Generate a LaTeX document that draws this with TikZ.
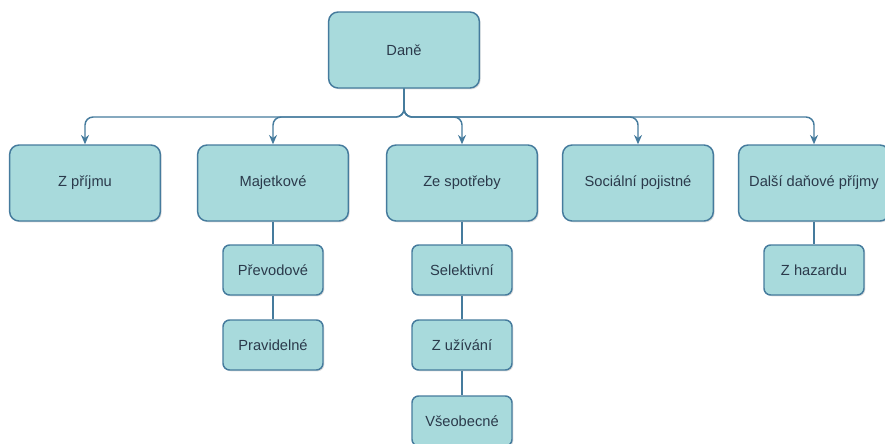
\documentclass[tikz,border=0pt]{standalone}
\usepackage{fontspec}
\setmainfont{Liberation Sans}
\usetikzlibrary{arrows.meta,shadows}
\definecolor{boxfill}{HTML}{A8DADC}
\definecolor{boxline}{HTML}{457B9D}
\definecolor{boxtext}{HTML}{2B3A4B}
\begin{document}
\begin{tikzpicture}[x=0.75pt, y=-0.75pt, font=\fontsize{11}{13}\selectfont, line join=round,
    box/.style={draw=boxline, fill=boxfill, text=boxtext, line width=1.1pt, rounded corners=7pt,
      minimum width=113pt, minimum height=57pt, inner sep=0pt,
      drop shadow={opacity=0.25, shadow xshift=1pt, shadow yshift=-1pt}},
    sub/.style={box, rounded corners=5pt, minimum width=75pt, minimum height=37.5pt},
    link/.style={draw=boxline, line width=1.1pt},
    bus/.style={link, rounded corners=6pt, -{Stealth[length=7pt, width=6pt]}}]
    \useasboundingbox (0,0) rectangle (885,443);
    % top
    \node[box] (dane) at (404,50) {Daně};
    \coordinate (bus) at (404,117);
    % first level
    \node[box] (prijem) at (85,183) {Z příjmu};
    \node[box] (majetek) at (273,183) {Majetkové};
    \node[box] (spotreba) at (462,183) {Ze spotřeby};
    \node[box] (social) at (638,183) {Sociální pojistné};
    \node[box] (dalsi) at (814,183) {Další daňové příjmy};
    % second level
    \node[sub] (prevod) at (273,270) {Převodové};
    \node[sub] (pravid) at (273,345) {Pravidelné};
    \node[sub] (selekt) at (462,270) {Selektivní};
    \node[sub] (uzivani) at (462,345) {Z užívání};
    \node[sub] (vseob) at (462,421) {Všeobecné};
    \node[sub] (hazard) at (814,270) {Z hazardu};
    \foreach \n in {prijem,majetek,spotreba,social,dalsi}
      \draw[bus] (dane.south) -- (dane.south |- bus) -- (\n.north |- bus) -- (\n.north);
    \draw[link] (majetek) -- (prevod);
    \draw[link] (prevod) -- (pravid);
    \draw[link] (spotreba) -- (selekt);
    \draw[link] (selekt) -- (uzivani);
    \draw[link] (uzivani) -- (vseob);
    \draw[link] (dalsi) -- (hazard);
\end{tikzpicture}
\end{document}
